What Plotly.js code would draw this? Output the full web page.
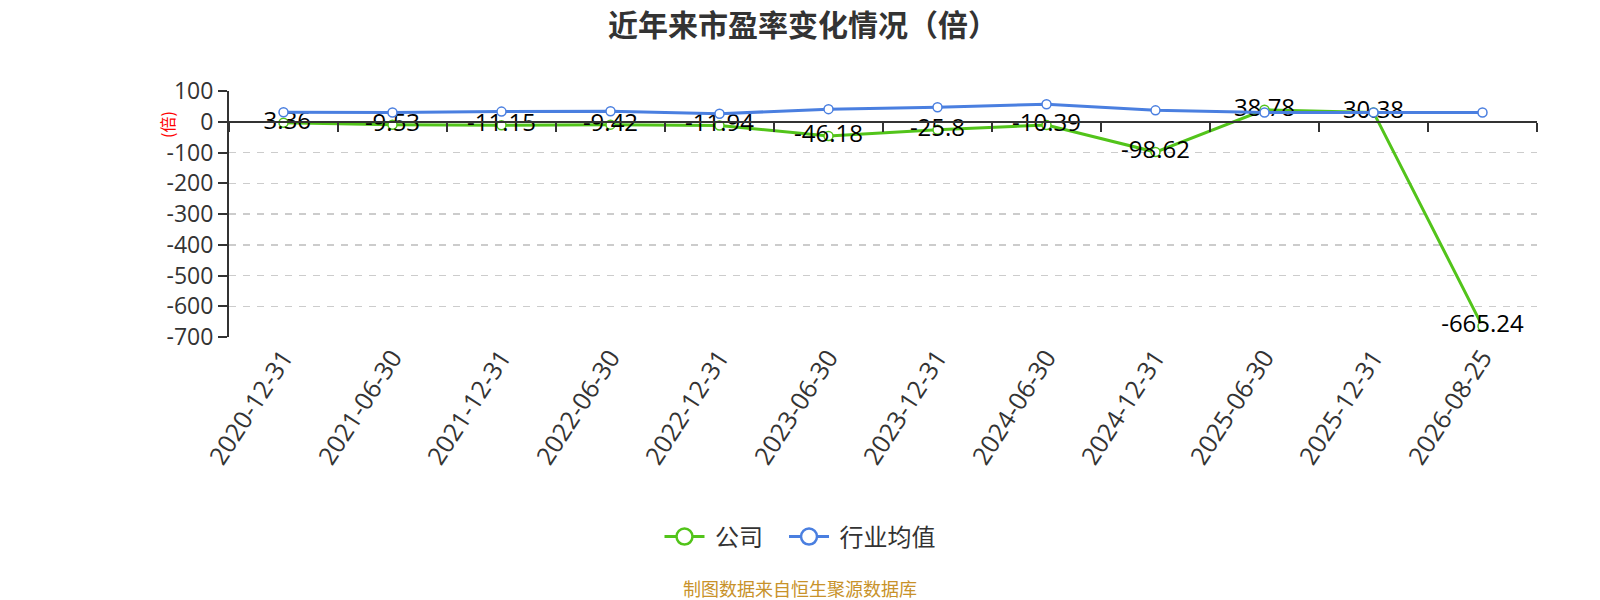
<!DOCTYPE html>
<html>
<head>
<meta charset="utf-8">
<script src="https://cdn.plot.ly/plotly-3.0.1.min.js"></script>
<style>html,body{margin:0;padding:0;background:#fff;overflow:hidden;}#chart{width:1600px;height:600px;}</style>
</head>
<body>
<div id="chart"></div>
<script>
const categories = ["2020-12-31","2021-06-30","2021-12-31","2022-06-30","2022-12-31","2023-06-30","2023-12-31","2024-06-30","2024-12-31","2025-06-30","2025-12-31","2026-08-25"];
const companyPE = [-3.36, -9.53, -11.15, -9.42, -11.94, -46.18, -25.8, -10.39, -98.62, 38.78, 30.38, -665.24];
const industryPE = [31, 30, 33, 34, 26, 41, 47, 57, 37, 30, 30, 30];
const yTicks = [100, 0, -100, -200, -300, -400, -500, -600, -700];
const seriesNames = ["公司", "行业均值"];
const titleText = "近年来市盈率变化情况（倍）";
const unitText = "(倍)";
const sourceText = "制图数据来自恒生聚源数据库";

const FONT = '"Open Sans","Noto Sans CJK SC",sans-serif';
const CJK = '"Noto Sans CJK SC","Open Sans",sans-serif';
const GREEN = '#52c41a';
const BLUE = '#4a7fe0';
const NB = '\u00a0';
const xRange = [-0.5, categories.length - 0.5];

const traces = [
  {
    x: categories, y: companyPE, name: seriesNames[0], type: 'scatter',
    mode: 'lines+markers+text',
    text: companyPE.map(v => String(v)),
    textposition: 'middle center',
    textfont: {family: FONT, size: 24, color: '#000'},
    line: {color: GREEN, width: 3},
    marker: {size: 9, color: '#fff', line: {color: GREEN, width: 1.5}},
    cliponaxis: false, showlegend: false
  },
  {
    x: categories, y: industryPE, name: seriesNames[1], type: 'scatter',
    mode: 'lines+markers',
    line: {color: BLUE, width: 3},
    marker: {size: 9, color: '#fff', line: {color: BLUE, width: 1.5}},
    cliponaxis: false, showlegend: false
  },
  {
    x: categories, y: industryPE, xaxis: 'x2', yaxis: 'y', type: 'scatter',
    mode: 'lines', line: {color: 'rgba(0,0,0,0)', width: 0},
    showlegend: false, hoverinfo: 'skip'
  },
  {
    x: [null], y: [null], name: NB + seriesNames[0] + NB + NB + NB, type: 'scatter', mode: 'lines+markers',
    line: {color: GREEN, width: 3},
    marker: {size: 20, color: '#fff', line: {color: GREEN, width: 2.5}}
  },
  {
    x: [null], y: [null], name: NB + seriesNames[1], type: 'scatter', mode: 'lines+markers',
    line: {color: BLUE, width: 3},
    marker: {size: 20, color: '#fff', line: {color: BLUE, width: 2.5}}
  }
];

const layout = {
  width: 1600, height: 600,
  paper_bgcolor: '#fff', plot_bgcolor: '#fff',
  margin: {l: 229, r: 63, t: 91, b: 263},
  font: {family: FONT, color: '#333'},
  title: {
    text: '<b>' + titleText + '</b>',
    font: {family: CJK, size: 30, color: '#333'},
    x: 803/1600, xanchor: 'center', xref: 'container',
    y: 1 - 25/600, yanchor: 'middle', yref: 'container'
  },
  xaxis: {
    type: 'category', categoryorder: 'array', categoryarray: categories,
    range: xRange, autorange: false,
    showline: false, ticks: '', showgrid: false, zeroline: false,
    tickangle: -57,
    tickfont: {family: FONT, size: 25, color: '#333'}
  },
  xaxis2: {
    type: 'category', categoryorder: 'array', categoryarray: categories,
    range: xRange, autorange: false,
    overlaying: 'x', anchor: 'free', position: 700/800,
    showline: true, linecolor: '#333', linewidth: 2,
    ticks: 'outside', ticklen: 9, tickwidth: 2, tickcolor: '#333',
    tickson: 'boundaries', showticklabels: false, showgrid: false, zeroline: false
  },
  yaxis: {
    range: [-700, 100], tickvals: yTicks, ticktext: yTicks.map(String),
    showline: true, linecolor: '#333', linewidth: 2,
    ticks: 'outside', ticklen: 9, tickwidth: 2, tickcolor: '#333',
    showgrid: true, gridcolor: '#ccc', griddash: '7px,7px', gridwidth: 1.5,
    zeroline: false,
    tickfont: {family: FONT, size: 23, color: '#333'}
  },
  legend: {
    orientation: 'h', x: 0.5, xanchor: 'center', xref: 'container',
    y: 1 - 537/600, yanchor: 'middle', yref: 'container',
    font: {family: CJK, size: 24, color: '#333'},
    itemwidth: 40
  },
  annotations: [
    {
      text: unitText, showarrow: false, textangle: -90,
      xref: 'paper', yref: 'paper',
      x: (167-229)/1308, y: (337-125)/246, xanchor: 'center', yanchor: 'middle',
      font: {family: CJK, size: 16, color: '#f00'}
    },
    {
      text: sourceText, showarrow: false,
      xref: 'paper', yref: 'paper',
      x: (800-229)/1308, y: (337-588)/246, xanchor: 'center', yanchor: 'middle',
      font: {family: CJK, size: 18, color: '#c8922a'}
    }
  ],
  showlegend: true
};

Plotly.newPlot('chart', traces, layout, {displayModeBar: false, staticPlot: true});
</script>
</body>
</html>
